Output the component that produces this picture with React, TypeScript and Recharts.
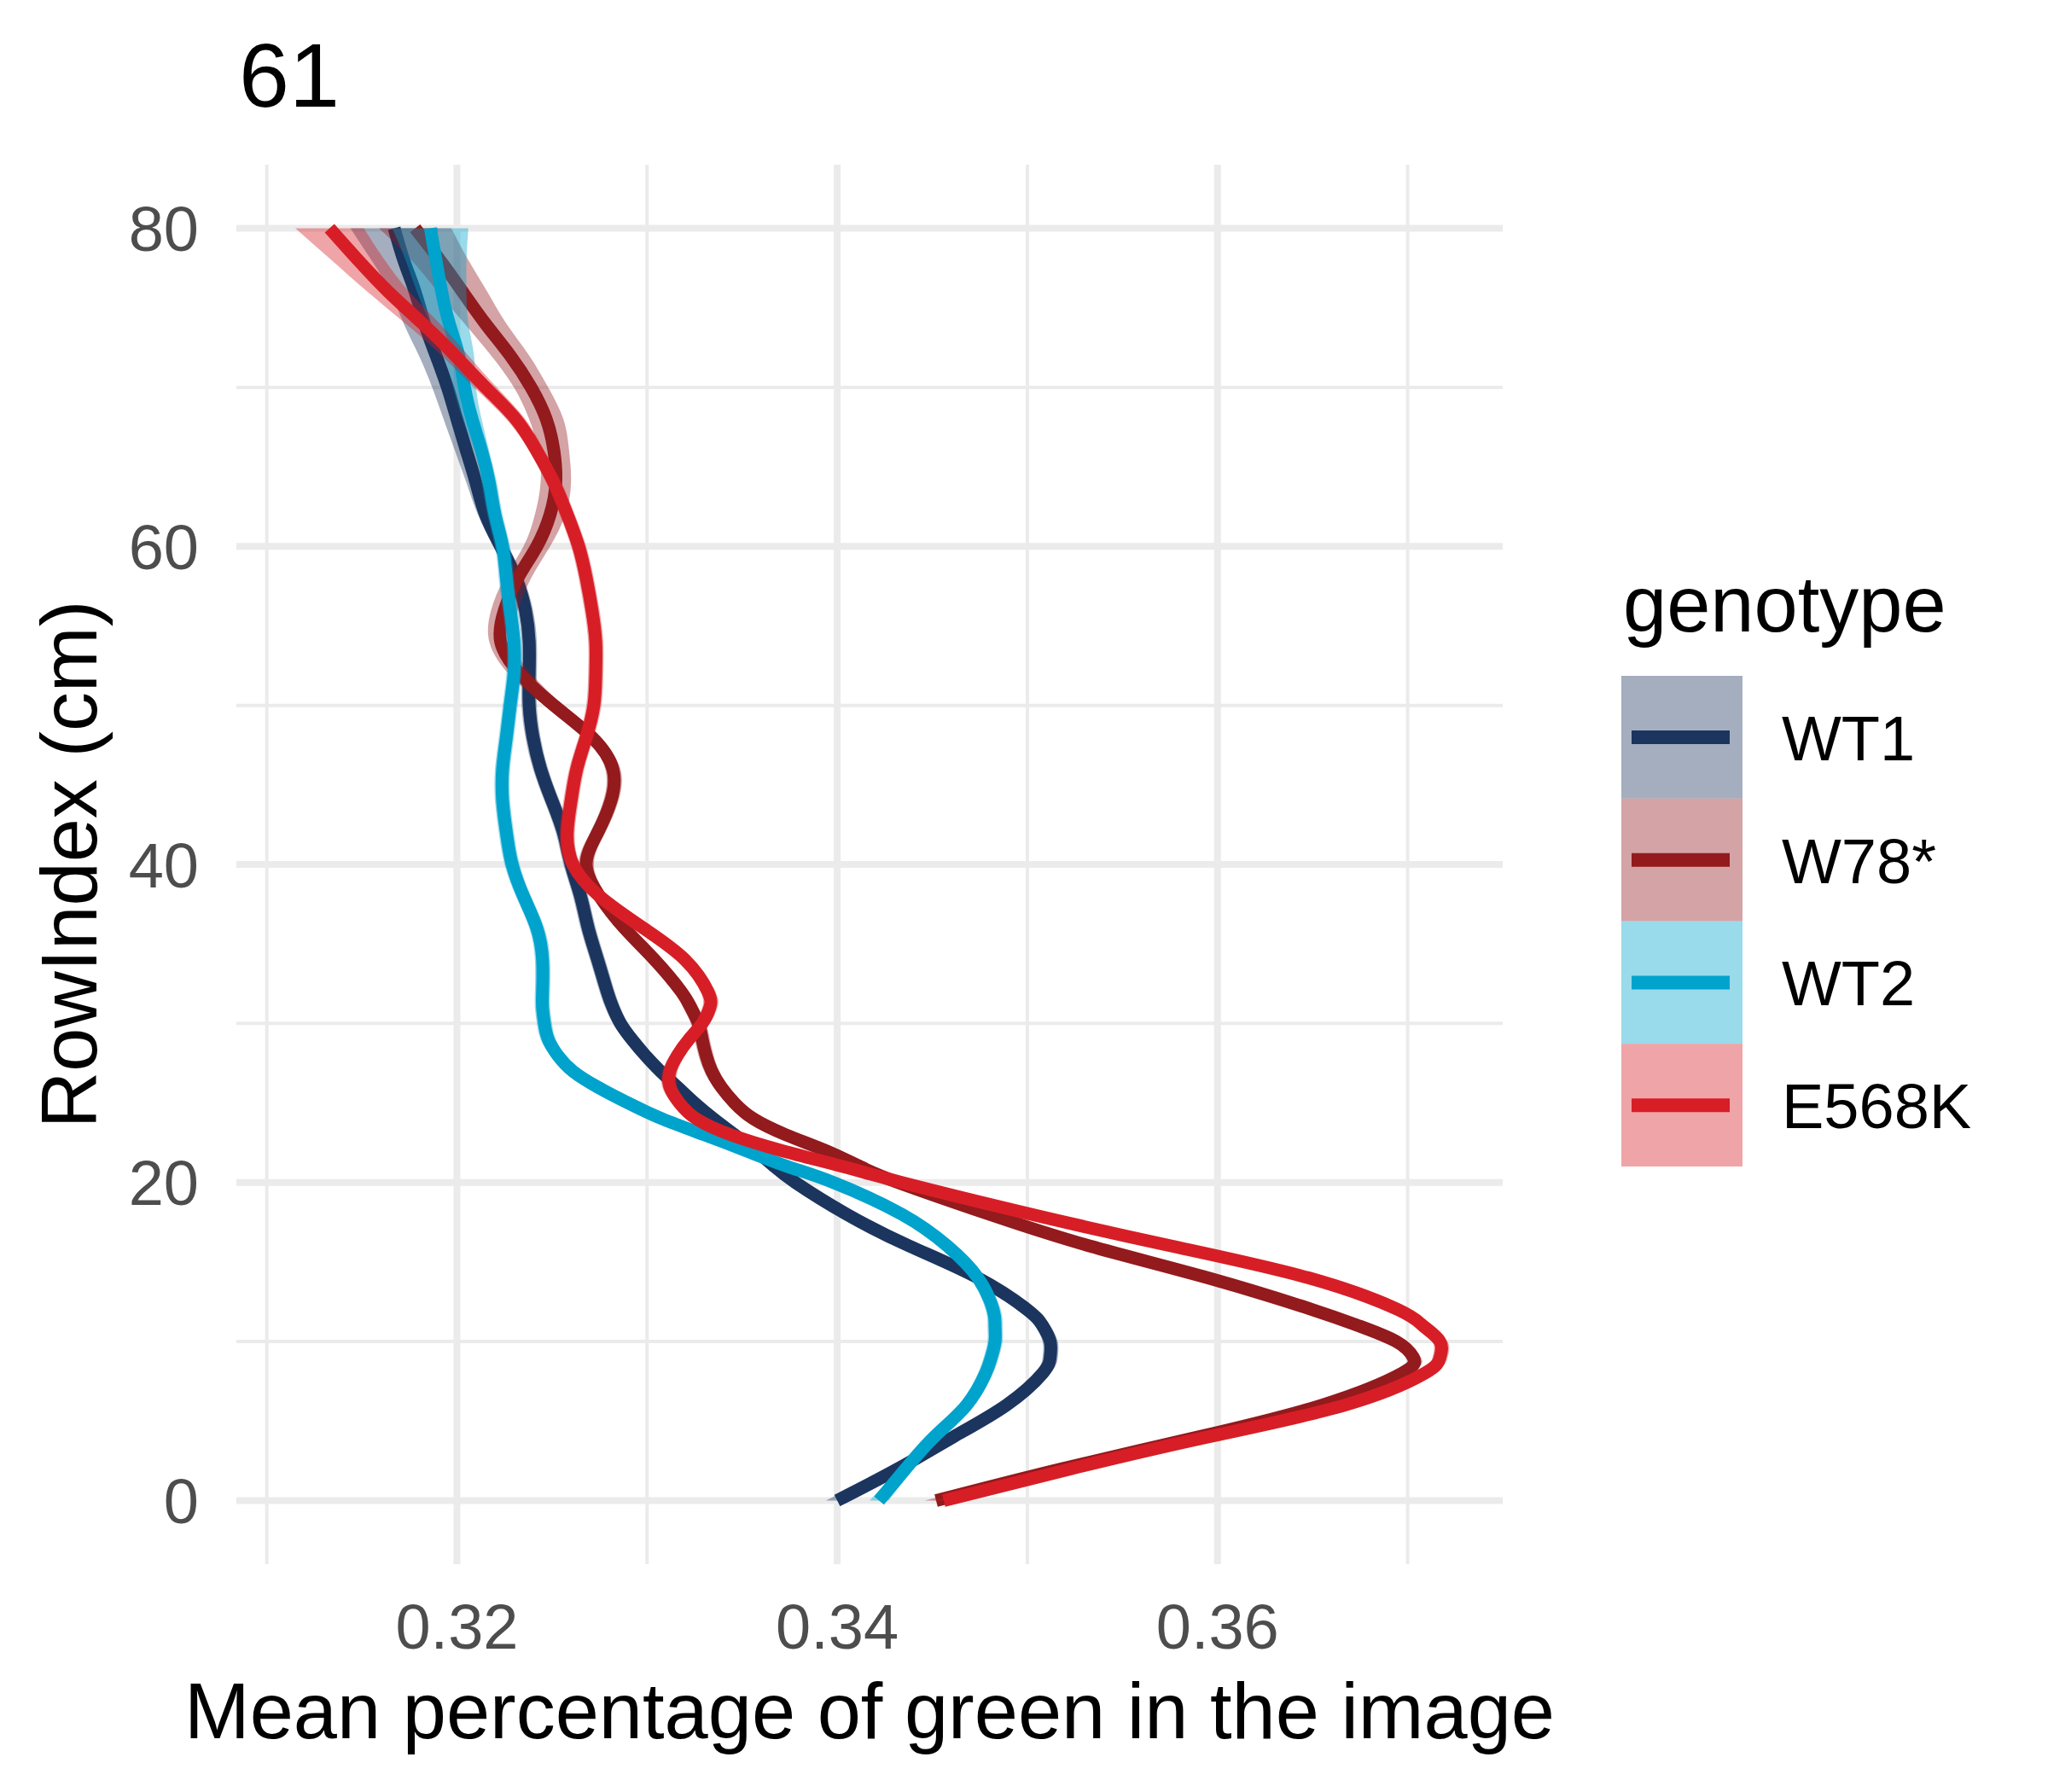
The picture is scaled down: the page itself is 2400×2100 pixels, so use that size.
import {
  Area,
  CartesianGrid,
  ComposedChart,
  Line,
  XAxis,
  YAxis,
} from "recharts";

// RowIndex (cm) sampled along the smoothed profiles
const rowIndex = [
  0, 2, 4, 6, 8, 9, 10, 11, 12, 14, 16, 18, 20, 21, 22, 23, 24, 25, 26, 27,
  28, 29, 30, 31, 32, 34, 36, 38, 40, 42, 44, 46, 48, 50, 52, 54, 56, 58, 60,
  62, 64, 66, 68, 70, 72, 74, 76, 78, 80,
];

// mean share of green per genotype
const wt1 = [
  0.34, 0.3432, 0.3461, 0.3489, 0.3508, 0.3512, 0.3512, 0.3508, 0.35, 0.3474,
  0.3438, 0.3405, 0.3378, 0.3367, 0.3357, 0.3346, 0.3335, 0.3325, 0.3316,
  0.3307, 0.3299, 0.3292, 0.3286, 0.3282, 0.3279, 0.3274, 0.3269, 0.3265,
  0.326, 0.3256, 0.325, 0.3244, 0.324, 0.3238, 0.3238, 0.3238, 0.3236, 0.3231,
  0.3223, 0.3215, 0.321, 0.3205, 0.32, 0.3195, 0.3189, 0.3183, 0.3178, 0.3172,
  0.3167,
];
const w78 = [
  0.3452, 0.3518, 0.359, 0.3655, 0.3697, 0.3703, 0.3694, 0.3674, 0.365,
  0.3595, 0.3533, 0.348, 0.3432, 0.3412, 0.3394, 0.3373, 0.3356, 0.3346,
  0.3339, 0.3334, 0.3331, 0.3329, 0.3327, 0.3323, 0.3318, 0.3304, 0.3288,
  0.3275, 0.3268, 0.3274, 0.3281, 0.3282, 0.3271, 0.3251, 0.3233, 0.3223,
  0.3225, 0.3232, 0.3242, 0.3249, 0.3252, 0.3251, 0.3247, 0.3239, 0.3228,
  0.3215, 0.3203, 0.3191, 0.3178,
];
const wt2 = [
  0.3422, 0.3436, 0.3451, 0.3468, 0.3478, 0.3481, 0.3483, 0.3483, 0.3482,
  0.3474, 0.3458, 0.3434, 0.3398, 0.3374, 0.3352, 0.333, 0.3308, 0.329, 0.3274,
  0.3261, 0.3253, 0.3248, 0.3246, 0.3245, 0.3245, 0.3245, 0.3242, 0.3235,
  0.3229, 0.3226, 0.3224, 0.3224, 0.3226, 0.3228, 0.323, 0.323, 0.3228, 0.3226,
  0.3224, 0.322, 0.3217, 0.3213, 0.3208, 0.3204, 0.3201, 0.3196, 0.3192,
  0.3189, 0.3186,
];
const e568k = [
  0.3456, 0.3523, 0.3595, 0.3667, 0.3709, 0.3717, 0.3717, 0.3708, 0.3695,
  0.3648, 0.3576, 0.3502, 0.3434, 0.3403, 0.3371, 0.3344, 0.3326, 0.3317,
  0.3312, 0.3312, 0.3316, 0.3322, 0.3329, 0.3333, 0.3332, 0.332, 0.3298,
  0.3275, 0.3261, 0.3258, 0.326, 0.3263, 0.3268, 0.3272, 0.3273, 0.3273,
  0.3271, 0.3268, 0.3264, 0.3258, 0.3251, 0.3242, 0.3231, 0.3215, 0.3199,
  0.3182, 0.3164, 0.3148, 0.3133,
];

// half width of the confidence ribbon around each curve
const wt1Se = [
  0.0006, 0.0005, 0.0004, 0.0004, 0.0004, 0.0004, 0.0004, 0.0004, 0.0004,
  0.0004, 0.0004, 0.0004, 0.0004, 0.0004, 0.0004, 0.0004, 0.0004, 0.0004,
  0.0004, 0.0004, 0.0004, 0.0004, 0.0004, 0.0004, 0.0004, 0.0004, 0.0004,
  0.0004, 0.0004, 0.0004, 0.0004, 0.0004, 0.0004, 0.0004, 0.0004, 0.0004,
  0.0004, 0.0004, 0.0004, 0.0004, 0.0005, 0.0006, 0.0007, 0.0008, 0.0009,
  0.0011, 0.0013, 0.0017, 0.0023,
];
const w78Se = [
  0.0006, 0.0005, 0.0004, 0.0004, 0.0004, 0.0004, 0.0004, 0.0004, 0.0004,
  0.0004, 0.0004, 0.0004, 0.0004, 0.0004, 0.0004, 0.0004, 0.0004, 0.0004,
  0.0004, 0.0004, 0.0004, 0.0004, 0.0004, 0.0004, 0.0004, 0.0004, 0.0004,
  0.0004, 0.0004, 0.0004, 0.0004, 0.0004, 0.0004, 0.0005, 0.0006, 0.0006,
  0.0007, 0.0007, 0.0007, 0.0008, 0.0008, 0.0008, 0.0009, 0.0009, 0.001,
  0.0011, 0.0013, 0.0015, 0.0019,
];
const wt2Se = [
  0.0005, 0.0004, 0.0004, 0.0004, 0.0004, 0.0004, 0.0004, 0.0004, 0.0004,
  0.0004, 0.0004, 0.0004, 0.0004, 0.0004, 0.0004, 0.0004, 0.0004, 0.0004,
  0.0004, 0.0004, 0.0004, 0.0004, 0.0004, 0.0004, 0.0004, 0.0004, 0.0004,
  0.0004, 0.0004, 0.0004, 0.0004, 0.0004, 0.0004, 0.0004, 0.0004, 0.0004,
  0.0004, 0.0004, 0.0004, 0.0004, 0.0004, 0.0004, 0.0005, 0.0006, 0.0008,
  0.001, 0.0013, 0.0016, 0.002,
];
const e568kSe = [
  0.0005, 0.0004, 0.0004, 0.0004, 0.0004, 0.0004, 0.0004, 0.0004, 0.0004,
  0.0004, 0.0004, 0.0004, 0.0004, 0.0004, 0.0004, 0.0004, 0.0004, 0.0004,
  0.0004, 0.0004, 0.0004, 0.0004, 0.0004, 0.0004, 0.0004, 0.0004, 0.0004,
  0.0004, 0.0004, 0.0004, 0.0004, 0.0004, 0.0004, 0.0004, 0.0004, 0.0004,
  0.0004, 0.0004, 0.0004, 0.0004, 0.0004, 0.0004, 0.0005, 0.0006, 0.0007,
  0.0009, 0.0011, 0.0014, 0.0018,
];

const genotypes = ["WT1", "W78*", "WT2", "E568K"];
const colors = ["#1C355E", "#931A1D", "#00A3CC", "#D71E26"];
const keys = ["wt1", "w78", "wt2", "e568k"];

const xMajor = [0.32, 0.34, 0.36];
const xMinor = [0.31, 0.33, 0.35, 0.37];
const yMajor = [0, 20, 40, 60, 80];
const yMinor = [10, 30, 50, 70];

const FONT = "'Liberation Sans', Arial, Helvetica, sans-serif";
const GRID = "#EBEBEB";

const values = [wt1, w78, wt2, e568k];
const ses = [wt1Se, w78Se, wt2Se, e568kSe];

const table = rowIndex.map((row, i) => {
  const r: Record<string, number | number[]> = { row };
  keys.forEach((k, s) => {
    r[k] = values[s][i];
    r[k + "Band"] = [values[s][i] - ses[s][i], values[s][i] + ses[s][i]];
  });
  return r;
});

const XTick = ({ x, y, payload }: any) => (
  <text
    x={x}
    y={y + 99}
    textAnchor="middle"
    fontSize={74}
    fill="#4D4D4D"
    fontFamily={FONT}
  >
    {Number(payload.value).toFixed(2)}
  </text>
);

const YTick = ({ x, y, payload }: any) => (
  <text
    x={x - 44}
    y={y}
    dy="0.36em"
    textAnchor="end"
    fontSize={74}
    fill="#4D4D4D"
    fontFamily={FONT}
  >
    {payload.value}
  </text>
);

export default function App() {
  return (
    <div
      style={{
        position: "absolute",
        left: 0,
        top: 0,
        width: 2400,
        height: 2100,
        background: "#fff",
      }}
    >
      <ComposedChart
        width={2400}
        height={2100}
        layout="vertical"
        data={table}
        margin={{ top: 193, right: 639, bottom: 0, left: 0 }}
      >
        <CartesianGrid
          stroke={GRID}
          strokeWidth={4}
          horizontalValues={yMinor}
          verticalValues={xMinor}
        />
        <CartesianGrid
          stroke={GRID}
          strokeWidth={8}
          horizontalValues={yMajor}
          verticalValues={xMajor}
        />
        <XAxis
          type="number"
          domain={[0.3084, 0.375]}
          allowDataOverflow
          ticks={xMajor}
          height={267}
          axisLine={false}
          tickLine={false}
          tickSize={0}
          tickMargin={0}
          tick={<XTick />}
        />
        <YAxis
          type="number"
          dataKey="row"
          domain={[-4, 84]}
          allowDataOverflow
          reversed
          ticks={yMajor}
          width={277}
          axisLine={false}
          tickLine={false}
          tickSize={0}
          tickMargin={0}
          tick={<YTick />}
        />
        {keys.flatMap((k, s) => [
          <Area
            key={k + "Band"}
            dataKey={k + "Band"}
            type="natural"
            stroke="none"
            fill={colors[s]}
            fillOpacity={0.4}
            isAnimationActive={false}
            zIndex={101 + s * 2}
          />,
          <Line
            key={k}
            dataKey={k}
            type="natural"
            stroke={colors[s]}
            strokeWidth={15}
            strokeLinecap="butt"
            strokeLinejoin="round"
            dot={false}
            activeDot={false}
            isAnimationActive={false}
            zIndex={102 + s * 2}
          />,
        ])}
      </ComposedChart>

      <svg
        width={2400}
        height={2100}
        style={{ position: "absolute", left: 0, top: 0, pointerEvents: "none" }}
        fontFamily={FONT}
      >
        <text x={280} y={125} fontSize={106} fill="#000">
          61
        </text>
        <text x={1019} y={2037} fontSize={92} textAnchor="middle" fill="#000">
          Mean percentage of green in the image
        </text>
        <text
          x={113}
          y={1013}
          fontSize={92}
          textAnchor="middle"
          fill="#000"
          transform="rotate(-90 113 1013)"
        >
          RowIndex (cm)
        </text>

        <text x={1902} y={740} fontSize={92} fill="#000">
          genotype
        </text>
        {genotypes.map((g, i) => {
          const top = 792 + i * 143.75;
          const mid = top + 71.9;
          return (
            <g key={g}>
              <rect
                x={1900}
                y={top}
                width={142}
                height={143.75}
                fill={colors[i]}
                fillOpacity={0.4}
              />
              <line
                x1={1912}
                x2={2027}
                y1={mid}
                y2={mid}
                stroke={colors[i]}
                strokeWidth={16}
              />
              <text x={2088} y={mid + 27} fontSize={74} fill="#000">
                {g}
              </text>
            </g>
          );
        })}
      </svg>
    </div>
  );
}
